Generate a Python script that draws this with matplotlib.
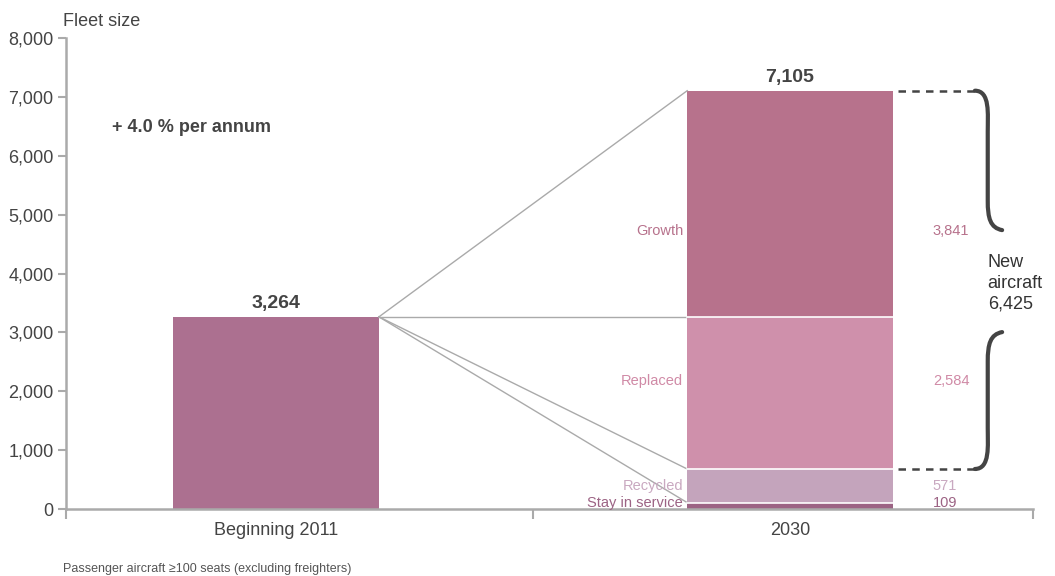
import matplotlib
matplotlib.use("Agg")
from matplotlib import pyplot as plt
from matplotlib.path import Path
from matplotlib.patches import PathPatch
from matplotlib import font_manager

#%% Data
categories = ["Beginning 2011", "2030"]
fleet_2011 = 3264
segments = ["Stay in service", "Recycled", "Replaced", "Growth"]
segment_values = [109, 571, 2584, 3841]
segment_colors = ["#9c6384", "#c4a4bc", "#cf90ab", "#b7728c"]
new_aircraft = 6425
growth_rate = "+ 4.0 % per annum"
y_ticks = [0, 1000, 2000, 3000, 4000, 5000, 6000, 7000, 8000]

#%% Style
names = {f.name for f in font_manager.fontManager.ttflist}
family = "Liberation Sans Narrow" if "Liberation Sans Narrow" in names else "Liberation Sans"
plt.rcParams['font.family'] = [family, 'DejaVu Sans']
dark = "#444444"
grey = "#aaaaaa"

fig = plt.figure(figsize=(10.55, 5.76), dpi=100)
ax = fig.add_axes([0.0626, 0.1163, 0.9165, 0.8177])

bar_w = 0.4
x0, x1 = 0, 1

# left bar
ax.bar(x0, fleet_2011, width=bar_w, color="#ac7090", linewidth=0)
ax.text(x0, fleet_2011 + 80, f"{fleet_2011:,}", ha="center", va="bottom",
        fontsize=14, fontweight="bold", color=dark)

# stacked 2030 bar, white gaps drawn as separate lines
bottom = 0
bounds = [0]
for name, val, col in zip(segments, segment_values, segment_colors):
    ax.bar(x1, val, width=bar_w, bottom=bottom, color=col, linewidth=0)
    bottom += val
    bounds.append(bottom)
total = bounds[-1]
for b in bounds[1:-1]:
    ax.plot([x1 - bar_w / 2, x1 + bar_w / 2], [b, b], color="white", lw=1.2, zorder=3)
ax.text(x1, total + 80, f"{total:,}", ha="center", va="bottom",
        fontsize=14, fontweight="bold", color=dark)

# segment labels (left) and values (right)
label_pos = [bounds[0] + 110, bounds[1] + segment_values[1] * 0.5,
             bounds[2] + segment_values[2] * 0.58, bounds[3] + segment_values[3] * 0.38]
label_cols = ["#9c6384", "#c9a8c0", "#d08aa6", "#b7728c"]
for name, val, y, col in zip(segments, segment_values, label_pos, label_cols):
    ax.text(x1 - bar_w / 2 - 0.008, y, name, ha="right", va="center", fontsize=10.5, color=col)
    ax.text(x1 + 0.278, y, f"{val:,}", ha="left", va="center", fontsize=10.5, color=col)

# connector lines
for b in [total, bounds[3], bounds[2], bounds[1]]:
    ax.plot([x0 + bar_w / 2, x1 - bar_w / 2], [fleet_2011, b], color=grey, lw=1, zorder=1)

# dashed guides
for b in [total, bounds[2]]:
    ax.plot([x1 + bar_w / 2 + 0.01, x1 + 0.36], [b, b], color=dark, lw=1.8,
            linestyle=(0, (3, 2.5)))

# braces
mid_hi = 4737
mid_lo = 3005
up = Path([(1.36, total), (1.39, total), (1.385, total - 400), (1.385, total - 700),
           (1.385, mid_hi + 500), (1.385, mid_hi + 200), (1.39, mid_hi + 40), (1.413, mid_hi)],
          [Path.MOVETO, Path.CURVE4, Path.CURVE4, Path.CURVE4,
           Path.LINETO, Path.CURVE4, Path.CURVE4, Path.CURVE4])
lo = Path([(1.413, mid_lo), (1.39, mid_lo - 40), (1.385, mid_lo - 200), (1.385, mid_lo - 500),
           (1.385, bounds[2] + 700), (1.385, bounds[2] + 400), (1.39, bounds[2]), (1.36, bounds[2])],
          [Path.MOVETO, Path.CURVE4, Path.CURVE4, Path.CURVE4,
           Path.LINETO, Path.CURVE4, Path.CURVE4, Path.CURVE4])
for p in [up, lo]:
    ax.add_patch(PathPatch(p, facecolor="none", edgecolor=dark, lw=3, capstyle="round"))
ax.text(1.385, (mid_hi + mid_lo) / 2 - 40, f"New\naircraft\n{new_aircraft:,}", ha="left", va="center",
        fontsize=13, color="#333333", linespacing=1.3)

ax.text(0.048, 0.8, growth_rate, transform=ax.transAxes, fontsize=13, fontweight="bold", color=dark)

# axes
ax.set_xlim(-0.409, 1.473)
ax.set_ylim(0, 8000)
ax.set_yticks(y_ticks)
ax.set_yticklabels([f"{t:,}" for t in y_ticks])
ax.set_xticks([x0, x1])
ax.set_xticklabels(categories)
ax.set_xticks([-0.409, 0.5, 1.473], minor=True)
ax.tick_params(axis="x", which="major", length=0, pad=9, labelsize=13, labelcolor=dark)
ax.tick_params(axis="x", which="minor", length=7, width=1.5, color=grey)
ax.tick_params(axis="y", length=6, width=1.5, color=grey, labelsize=13, labelcolor=dark, pad=3)
for s in ["top", "right"]:
    ax.spines[s].set_visible(False)
for s in ["left", "bottom"]:
    ax.spines[s].set_color(grey)
    ax.spines[s].set_linewidth(1.8)

fig.text(0.06, 0.962, "Fleet size", fontsize=13, color=dark, va="center")
fig.text(0.06, 0.013, "Passenger aircraft \u2265100 seats (excluding freighters)",
         fontsize=9, color="#555555", va="center")

fig.savefig("out.png", dpi=100)
